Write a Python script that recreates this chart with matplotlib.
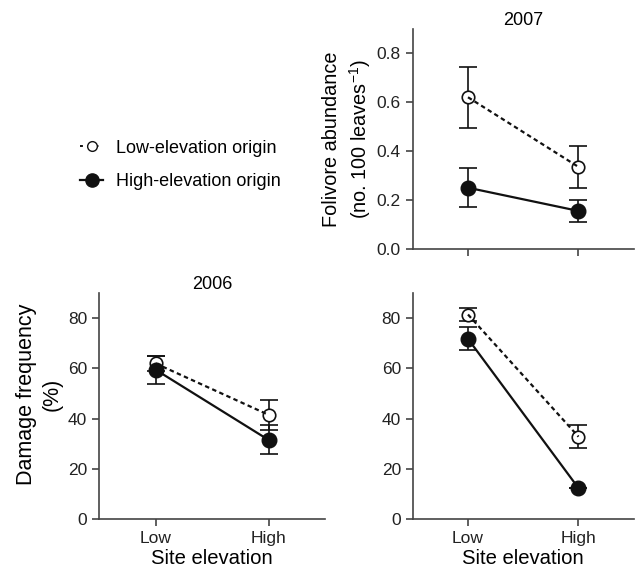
import matplotlib
matplotlib.use('Agg')
import matplotlib.pyplot as plt
from matplotlib.lines import Line2D

plt.rcParams['font.family'] = ['Liberation Sans', 'DejaVu Sans']

sites = ['Low', 'High']

# 2007 folivore abundance (no. 100 leaves^-1)
fol_low_mean = [0.62, 0.335]
fol_low_err = [0.125, 0.085]
fol_high_mean = [0.25, 0.155]
fol_high_err = [0.08, 0.045]

# 2006 damage frequency (%)
d06_low_mean = [62.0, 41.5]
d06_low_err = [3.0, 6.0]
d06_high_mean = [59.5, 31.5]
d06_high_err = [5.5, 5.8]

# 2007 damage frequency (%)
d07_low_mean = [81.5, 32.8]
d07_low_err = [2.6, 4.5]
d07_high_mean = [71.8, 12.3]
d07_high_err = [4.6, 0.0]

AX_COL = '#444444'
LN_COL = '#111111'


def draw(ax, low_m, low_e, high_m, high_e):
    x = list(range(len(sites)))
    ax.errorbar(x, low_m, yerr=low_e, fmt='none', ecolor=LN_COL, elinewidth=1.2,
                capsize=6.5, capthick=1.2, zorder=2)
    ax.errorbar(x, high_m, yerr=high_e, fmt='none', ecolor=LN_COL, elinewidth=1.2,
                capsize=6.5, capthick=1.2, zorder=2)
    ax.plot(x, low_m, ls='none', marker='o', ms=9, mfc='white', mec=LN_COL,
            mew=1.2, zorder=3)
    ax.plot(x, low_m, ls=(0, (2, 1.5)), color=LN_COL, lw=1.6, zorder=4)
    ax.plot(x, high_m, ls='-', color=LN_COL, lw=1.6, marker='o', ms=10.5,
            mfc=LN_COL, mec=LN_COL, zorder=5)
    ax.set_xlim(-0.5, 1.5)
    ax.set_xticks(x)
    for s in ['top', 'right']:
        ax.spines[s].set_visible(False)
    for s in ['left', 'bottom']:
        ax.spines[s].set_color(AX_COL)
        ax.spines[s].set_linewidth(1.2)
    ax.tick_params(direction='out', length=5, width=1.2, color=AX_COL,
                   labelsize=12.5, labelcolor='#222222')


fig = plt.figure(figsize=(6.35, 5.76), dpi=100)

ax1 = fig.add_axes([0.650, 0.568, 0.348, 0.382])
draw(ax1, fol_low_mean, fol_low_err, fol_high_mean, fol_high_err)
ax1.set_ylim(0, 0.9)
ax1.set_yticks([0, 0.2, 0.4, 0.6, 0.8])
ax1.set_yticklabels(['0.0', '0.2', '0.4', '0.6', '0.8'])
ax1.set_xticklabels([])
ax1.set_title('2007', fontsize=13, pad=3)
ax1.set_ylabel('Folivore abundance\n(no. 100 leaves$^{\\mathregular{-1}}$)',
               fontsize=14.3, labelpad=3, linespacing=1.3)

ax2 = fig.add_axes([0.156, 0.099, 0.356, 0.392])
draw(ax2, d06_low_mean, d06_low_err, d06_high_mean, d06_high_err)
ax2.set_ylim(0, 90)
ax2.set_yticks([0, 20, 40, 60, 80])
ax2.set_xticklabels(sites)
ax2.set_title('2006', fontsize=13, pad=3)
ax2.set_ylabel('Damage frequency\n(%)', fontsize=15.5, labelpad=4,
               linespacing=1.3)
ax2.yaxis.label.set_y(0.55)
ax2.set_xlabel('Site elevation', fontsize=14.6, labelpad=2)

ax3 = fig.add_axes([0.650, 0.099, 0.348, 0.392])
draw(ax3, d07_low_mean, d07_low_err, d07_high_mean, d07_high_err)
ax3.set_ylim(0, 90)
ax3.set_yticks([0, 20, 40, 60, 80])
ax3.set_xticklabels(sites)
ax3.set_xlabel('Site elevation', fontsize=14.6, labelpad=2)

handles = [
    Line2D([], [], ls=(0, (1.5, 2.5)), color=LN_COL, lw=1.4, marker='o', ms=7,
           mfc='white', mec=LN_COL),
    Line2D([], [], ls='-', color=LN_COL, lw=1.6, marker='o', ms=9.5,
           mfc=LN_COL, mec=LN_COL),
]
fig.legend(handles, ['Low-elevation origin', 'High-elevation origin'],
           loc='center left', bbox_to_anchor=(0.126, 0.714), frameon=False,
           fontsize=13, handlelength=1.3, labelspacing=0.9, handletextpad=0.7,
           borderpad=0, borderaxespad=0)

fig.savefig('out.png', dpi=100)
